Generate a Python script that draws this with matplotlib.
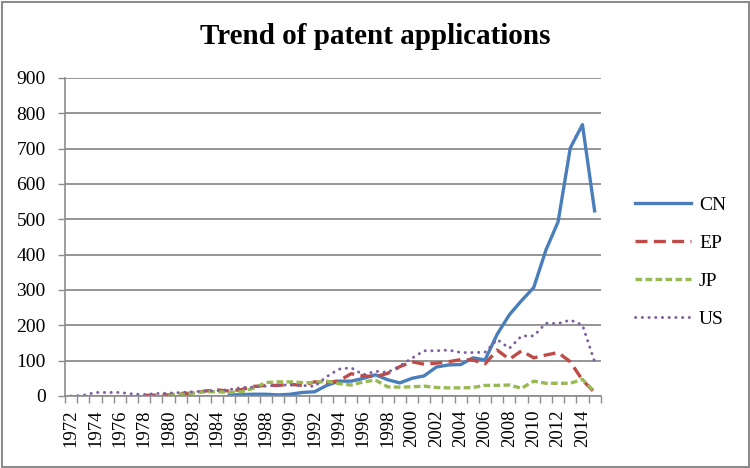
import numpy as np
import matplotlib
matplotlib.use("Agg")
import matplotlib.pyplot as plt
from matplotlib.patches import Rectangle

nan = np.nan
years = list(range(1972, 2016))

cn = [nan]*13 + [3, 4, 5, 5, 3, 5, 10, 12, 30, 42, 42, 50, 60, 46, 37, 50, 57, 82, 88, 89,
                 108, 102, 175, 230, 270, 307, 413, 493, 702, 768, 524]
ep = [nan]*6 + [2, 2, 3, 7, 8, 14, 17, 14, 18, 27, 30, 30, 33, 30, 40, 38, 43, 63, 57, 55,
                64, 83, 97, 90, 93, 97, 103, 102, 91, 130, 104, 128, 108, 116, 123, 97, 45, 10]
jp = [nan]*8 + [2, 5, 8, 12, 12, 10, 12, 22, 38, 40, 40, 38, 38, 42, 35, 31, 40, 45, 26, 25,
                26, 28, 24, 23, 23, 24, 30, 30, 31, 22, 42, 36, 36, 36, 47, 12]
us = [0, 2, 10, 10, 10, 6, 4, 7, 8, 10, 12, 14, 15, 18, 24, 25, 28, 31, 31, 30, 27, 55, 76,
      80, 60, 70, 67, 85, 107, 128, 128, 130, 123, 123, 124, 160, 135, 170, 170, 206, 205,
      215, 201, 97]

series_names = ["CN", "EP", "JP", "US"]
title = "Trend of patent applications"

plt.rcParams['font.family'] = ['Liberation Serif', 'DejaVu Serif']

fig = plt.figure(figsize=(7.5, 4.68), dpi=100)
ax = fig.add_axes([65/750, 1-396/468, (600.7-65)/750, (396-78)/468])

x = np.arange(len(years))
lw = 2.4
ax.plot(x, cn, color='#4A7EBB', lw=lw, solid_joinstyle='round', label=series_names[0])
ax.plot(x, ep, color='#BE4B48', lw=lw, linestyle=(0, (3.6, 1.9)), label=series_names[1])
ax.plot(x, jp, color='#98B954', lw=lw, linestyle=(0, (2.0, 1.0)), label=series_names[2])
ax.plot(x, us, color='#7D60A0', lw=2.1, linestyle=(0, (0.1, 2.2)), dash_capstyle='round',
        label=series_names[3])

ax.set_xlim(-0.5, len(years) - 0.5)
ax.set_ylim(0, 900)
ax.set_yticks(np.arange(0, 901, 100))
ax.yaxis.grid(True, color='#8C8C8C', lw=1.3)
ax.set_axisbelow(True)

ax.set_xticks(np.arange(-0.5, len(years), 1.0))
ax.set_xticklabels([])
ax.set_xticks(x[::2], minor=True)
ax.set_xticklabels([str(y) for y in years[::2]], minor=True, rotation=90, fontsize=13.5)
ax.tick_params(axis='x', which='major', length=5, width=1, color='#8C8C8C', direction='out')
ax.tick_params(axis='x', which='minor', length=0, pad=10)
ax.tick_params(axis='y', length=5, width=1, color='#8C8C8C', pad=9, labelsize=14)

for s in ['top', 'right']:
    ax.spines[s].set_visible(False)
for s in ['left', 'bottom']:
    ax.spines[s].set_color('#8C8C8C')
    ax.spines[s].set_linewidth(1.2)

fig.text(0.5, 1-36/468, title, ha='center', va='center', fontsize=21, fontweight='bold')

leg = ax.legend(loc='center left', bbox_to_anchor=(1.031, 0.421), frameon=False, fontsize=14,
                handlelength=2.9, labelspacing=1.05, handletextpad=0.4)

fig.patches.append(Rectangle((1.5/750, 1.5/468), 1-3/750, 1-3/468, transform=fig.transFigure,
                             fill=False, edgecolor='#8C8C8C', lw=1.5))

fig.savefig("out.png", dpi=100)
